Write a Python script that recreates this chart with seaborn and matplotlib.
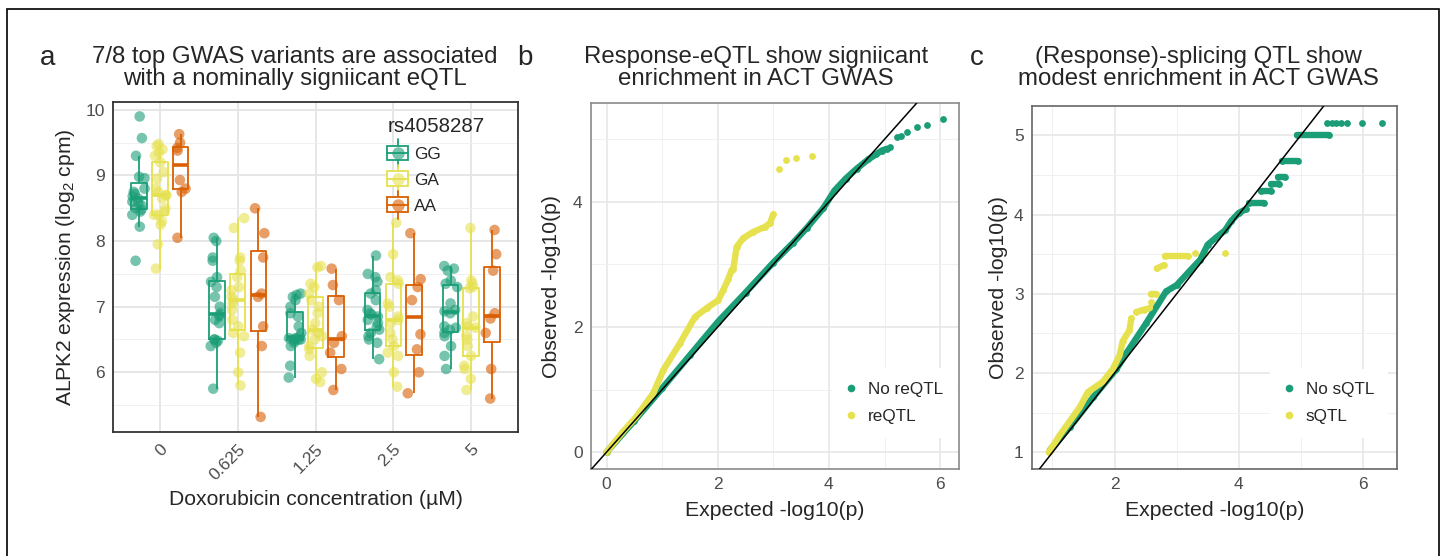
import numpy as np
import pandas as pd

import matplotlib
matplotlib.use("Agg")

import matplotlib.pyplot as plt
import matplotlib.transforms as mtrans
import seaborn as sns
from matplotlib.lines import Line2D
from matplotlib.patches import Rectangle
from matplotlib.legend_handler import HandlerBase
from matplotlib.ticker import MultipleLocator, NullLocator


# ------------------------ DATA ------------------------------------------------

CONCS = ["0", "0.625", "1.25", "2.5", "5"]
GENOTYPES = ["GG", "GA", "AA"]

# ALPK2 expression per concentration, one list per genotype
GG = [
    [9.9, 9.57, 9.3, 8.98, 8.96, 8.8, 8.75, 8.72, 8.68, 8.65, 8.6, 8.58, 8.55, 8.5, 8.48, 8.45, 8.4, 8.22, 7.7],
    [8.05, 8.0, 7.75, 7.7, 7.45, 7.38, 7.3, 7.15, 7.0, 6.9, 6.87, 6.85, 6.8, 6.75, 6.5, 6.48, 6.5, 6.45, 6.4, 5.75],
    [7.2, 7.18, 7.15, 7.1, 7.0, 6.9, 6.85, 6.7, 6.6, 6.55, 6.52, 6.52, 6.5, 6.5, 6.5, 6.48, 6.45, 6.4, 6.1, 5.92],
    [7.78, 7.5, 7.45, 7.38, 7.25, 7.2, 7.1, 6.95, 6.9, 6.88, 6.85, 6.8, 6.75, 6.7, 6.65, 6.6, 6.55, 6.5, 6.45, 6.2],
    [7.62, 7.58, 7.55, 7.4, 7.35, 7.3, 7.05, 6.95, 6.93, 6.9, 6.7, 6.68, 6.65, 6.6, 6.55, 6.4, 6.25, 6.05],
]
GA = [
    [9.48, 9.45, 9.4, 9.35, 9.3, 9.2, 9.05, 8.95, 8.8, 8.75, 8.7, 8.7, 8.65, 8.5, 8.45, 8.4, 8.4, 8.3, 8.25, 7.95, 7.58],
    [8.35, 8.2, 7.75, 7.7, 7.55, 7.45, 7.3, 7.25, 7.15, 7.1, 7.05, 6.95, 6.8, 6.7, 6.6, 6.55, 6.3, 6.0, 5.8],
    [7.62, 7.6, 7.35, 7.3, 7.2, 7.1, 7.0, 6.9, 6.75, 6.65, 6.6, 6.55, 6.5, 6.4, 6.35, 6.25, 6.0, 5.9, 5.85],
    [8.28, 7.8, 7.45, 7.4, 7.35, 7.05, 7.0, 6.85, 6.8, 6.75, 6.6, 6.5, 6.4, 6.3, 6.25, 6.0, 5.78],
    [8.2, 7.4, 7.35, 7.3, 7.28, 6.85, 6.75, 6.7, 6.68, 6.55, 6.5, 6.4, 6.25, 6.1, 6.05, 5.9, 5.73],
]
AA = [
    [9.63, 9.5, 9.42, 9.38, 8.93, 8.8, 8.75, 8.05],
    [8.5, 8.12, 7.75, 7.2, 7.15, 6.7, 6.4, 5.32],
    [7.58, 7.33, 7.1, 6.55, 6.45, 6.3, 6.05, 5.73],
    [8.12, 7.42, 7.3, 7.1, 6.58, 6.35, 6.0, 5.68],
    [8.17, 7.8, 7.55, 6.9, 6.82, 6.6, 6.05, 5.6],
]

# QQ curves: (expected, observed); "run" groups dense stretches
B_NULL_X = [0, 0.5, 1.0, 1.5, 2.0, 2.5, 3.0, 3.36, 3.6, 3.9, 4.1, 4.3, 4.5, 4.71, 4.85, 4.95, 5.05,
            5.1, 5.22, 5.3, 5.4, 5.58, 5.76, 6.05]
B_NULL_Y = [0, 0.5, 1.02, 1.55, 2.08, 2.55, 3.03, 3.35, 3.58, 3.9, 4.18, 4.37, 4.53, 4.68, 4.76, 4.82, 4.85,
            4.87, 5.04, 5.05, 5.11, 5.20, 5.23, 5.32]
B_NULL_RUN = [0] * 17 + [1, 2, 3, 4, 5, 6, 7]

B_RE_X = [0, 0.3, 0.54, 0.84, 1.02, 1.32, 1.59, 1.8, 2.01, 2.1, 2.19, 2.25, 2.28, 2.34, 2.46, 2.64, 2.85, 2.94, 3.0,
          3.10, 3.22, 3.40, 3.70]
B_RE_Y = [0, 0.33, 0.57, 0.94, 1.31, 1.74, 2.16, 2.30, 2.43, 2.59, 2.77, 2.91, 2.93, 3.28, 3.42, 3.52, 3.60, 3.66, 3.80,
          4.53, 4.67, 4.70, 4.73]
B_RE_RUN = [0] * 19 + [1, 2, 3, 4]

C_NULL_X = [0.96, 1.28, 1.66, 2.03, 2.19, 2.51, 2.83, 3.0, 3.2, 3.38, 3.5, 3.65, 3.78, 3.88, 4.0, 4.12,
            4.17, 4.41, 4.36, 4.52, 4.52, 4.65, 4.63, 4.74, 4.69, 4.96, 4.94, 5.45,
            5.43, 5.50, 5.57, 5.64, 5.74, 5.98, 6.31]
C_NULL_Y = [1.03, 1.32, 1.70, 2.05, 2.25, 2.63, 3.03, 3.11, 3.28, 3.43, 3.62, 3.72, 3.80, 3.92, 4.02, 4.07,
            4.15, 4.15, 4.30, 4.30, 4.38, 4.38, 4.48, 4.48, 4.67, 4.67, 5.0, 5.0,
            5.16, 5.16, 5.16, 5.16, 5.16, 5.16, 5.16]
C_NULL_RUN = [0] * 16 + [1, 1, 2, 2, 3, 3, 4, 4, 5, 5, 6, 6] + [7, 8, 9, 10, 11, 12, 13]

C_SQ_X = [0.94, 1.12, 1.44, 1.57, 1.81, 1.97, 2.08, 2.13, 2.24, 2.27,
          2.35, 2.47, 2.57, 2.59, 2.58, 2.66, 2.68, 2.79, 2.81, 3.19, 3.29, 3.45, 3.78]
C_SQ_Y = [1.0, 1.22, 1.57, 1.76, 1.89, 2.05, 2.22, 2.40, 2.54, 2.69,
          2.77, 2.80, 2.82, 2.90, 3.0, 3.0, 3.32, 3.36, 3.48, 3.48, 3.52, 3.52, 3.52]
C_SQ_RUN = [0] * 10 + [1, 1, 1, 2, 3, 3, 4, 4, 5, 5, 6, 7, 8]

PALETTE = {"GG": "#1B9E77", "GA": "#E6E14E", "AA": "#D95F02"}
GREEN = "#1B9E77"
YELLOW = "#E6E14E"

W, H = 1444, 556


# ------------------------ HELPERS --------------------------

def px_box(left, top, right, bottom):
    return [left / W, 1 - bottom / H, (right - left) / W, (bottom - top) / H]


class BoxKey(HandlerBase):
    # boxplot + point key like ggplot's
    def create_artists(self, legend, orig, xd, yd, w, h, fontsize, trans):
        c = orig.get_color()
        x0, y0 = -xd, -yd
        cx, cy = x0 + w / 2, y0 + h / 2
        whisk = Line2D([cx, cx], [y0 - 0.45 * h, y0 + 1.45 * h], color=c, lw=1.3, transform=trans)
        box = Rectangle((x0, y0), w, h, facecolor="white", edgecolor=c, lw=1.3, transform=trans)
        med = Line2D([x0, x0 + w], [cy, cy], color=c, lw=1.3, transform=trans)
        dot = Line2D([cx], [cy], marker="o", ms=9, color=c, alpha=0.6, ls="none",
                     markeredgewidth=0, transform=trans)
        return [whisk, box, med, dot]


def style_axes(ax, spine_col, major_lw=1.1):
    ax.set_axisbelow(True)
    ax.grid(which="major", color="#E6E6E6", lw=major_lw)
    ax.grid(which="minor", color="#EEEEEE", lw=0.6)
    for s in ax.spines.values():
        s.set_color(spine_col)
        s.set_linewidth(1.2)
    ax.tick_params(which="major", length=3.5, width=0.9, color="#333333",
                   labelsize=12.5, labelcolor="#4D4D4D", pad=2.5)
    ax.tick_params(which="minor", length=0)


def qq_series(ax, xs, ys, runs, color):
    sns.lineplot(x=xs, y=ys, units=runs, estimator=None, sort=False, color=color,
                 lw=4.6, solid_capstyle="round", ax=ax, legend=False)
    sns.scatterplot(x=xs, y=ys, color=color, s=24, linewidth=0, ax=ax, legend=False)


def qq_legend(ax, labels, anchor):
    lh = [Line2D([], [], marker="o", ls="none", color=c, ms=5.5, markeredgewidth=0) for c in (GREEN, YELLOW)]
    ax.legend(lh, labels, loc="lower right", bbox_to_anchor=anchor,
              frameon=True, facecolor="white", edgecolor="none", framealpha=1, fancybox=False,
              fontsize=12.3, handlelength=0.6, handletextpad=0.7, labelspacing=0.72,
              borderpad=0.8, borderaxespad=0)


# ------------------------ FIGURE --------------------------

sns.set_theme(style="white")
plt.rcParams["font.family"] = ["Liberation Sans", "DejaVu Sans"]
plt.rcParams["mathtext.fontset"] = "custom"
plt.rcParams["mathtext.rm"] = "Liberation Sans"

np.random.seed(3)
fig = plt.figure(figsize=(W / 100, H / 100), dpi=100)
fig.patch.set_facecolor("white")

# outer frame
fig.patches.append(Rectangle((7 / W, -0.05), (1439 - 7) / W, 1 - 9 / H + 0.05, transform=fig.transFigure,
                             fill=False, edgecolor="black", lw=1.2, clip_on=False))

# ---- panel a ----
rows = []
for g, groups in zip(GENOTYPES, [GG, GA, AA]):
    for conc, vals in zip(CONCS, groups):
        for v in vals:
            rows.append({"conc": conc, "genotype": g, "expr": v})
df = pd.DataFrame(rows)

ax1 = fig.add_axes(px_box(113, 102, 518, 432))
sns.boxplot(data=df, x="conc", y="expr", hue="genotype", order=CONCS, hue_order=GENOTYPES,
            palette=PALETTE, fill=False, width=0.8, gap=0.25, linewidth=1.3, showfliers=False,
            showcaps=False, medianprops={"linewidth": 2.6}, legend=False, ax=ax1)
sns.stripplot(data=df, x="conc", y="expr", hue="genotype", order=CONCS, hue_order=GENOTYPES,
              palette=PALETTE, dodge=True, jitter=0.27, size=7.6, alpha=0.6, linewidth=0,
              legend=False, ax=ax1)
ax1.set_xlim(-0.6, 4.6)
ax1.set_ylim(5.09, 10.12)
ax1.yaxis.set_major_locator(MultipleLocator(1))
ax1.yaxis.set_minor_locator(MultipleLocator(0.5))
ax1.xaxis.set_minor_locator(NullLocator())
style_axes(ax1, "#333333", major_lw=1.4)
ax1.spines[:].set_linewidth(1.3)
ax1.tick_params(axis="x", pad=7)
shift = mtrans.ScaledTranslation(5 / 100, 0, fig.dpi_scale_trans)
for lab in ax1.get_xticklabels():
    lab.set_rotation(45)
    lab.set_ha("right")
    lab.set_va("center")
    lab.set_rotation_mode("anchor")
    lab.set_transform(lab.get_transform() + shift)
ax1.set_xlabel("Doxorubicin concentration (\u00b5M)", fontsize=15.2)
ax1.set_ylabel("ALPK2 expression (log$_\\mathregular{2}$ cpm)", fontsize=15.2)
ax1.xaxis.set_label_coords(0.5, -0.175)
ax1.yaxis.set_label_coords(-0.09, 0.5)

handles = [Line2D([], [], color=PALETTE[g]) for g in GENOTYPES]
leg = ax1.legend(handles, GENOTYPES, title="rs4058287", handler_map={Line2D: BoxKey()},
                 loc="upper left", bbox_to_anchor=(0.66, 0.975), frameon=False,
                 fontsize=12.4, title_fontsize=14.8, handlelength=1.2, handleheight=0.95,
                 handletextpad=0.35, labelspacing=0.55, borderaxespad=0)
leg._legend_box.align = "left"

# ---- panel b ----
ax2 = fig.add_axes(px_box(591, 103, 959, 469))
qq_series(ax2, B_NULL_X, B_NULL_Y, B_NULL_RUN, GREEN)
qq_series(ax2, B_RE_X, B_RE_Y, B_RE_RUN, YELLOW)
ax2.axline((0, 0), slope=1, color="black", lw=1.1, zorder=5)
ax2.set_xlim(-0.28, 6.34)
ax2.set_ylim(-0.27, 5.58)
ax2.xaxis.set_major_locator(MultipleLocator(2))
ax2.xaxis.set_minor_locator(MultipleLocator(1))
ax2.yaxis.set_major_locator(MultipleLocator(2))
ax2.yaxis.set_minor_locator(MultipleLocator(1))
style_axes(ax2, "#8A8A8A")
ax2.set_xlabel("Expected -log10(p)", fontsize=15.3)
ax2.set_ylabel("Observed -log10(p)", fontsize=15.3)
ax2.xaxis.set_label_coords(0.5, -0.088)
ax2.yaxis.set_label_coords(-0.082, 0.5)
qq_legend(ax2, ["No reQTL", "reQTL"], (0.995, 0.085))

# ---- panel c ----
ax3 = fig.add_axes(px_box(1032, 106, 1397, 469))
qq_series(ax3, C_NULL_X, C_NULL_Y, C_NULL_RUN, GREEN)
qq_series(ax3, C_SQ_X, C_SQ_Y, C_SQ_RUN, YELLOW)
ax3.axline((1, 1), slope=1, color="black", lw=1.1, zorder=5)
ax3.set_xlim(0.67, 6.55)
ax3.set_ylim(0.79, 5.37)
ax3.xaxis.set_major_locator(MultipleLocator(2))
ax3.xaxis.set_minor_locator(MultipleLocator(1))
ax3.yaxis.set_major_locator(MultipleLocator(1))
ax3.yaxis.set_minor_locator(MultipleLocator(0.5))
style_axes(ax3, "#666666")
ax3.set_xlabel("Expected -log10(p)", fontsize=15.3)
ax3.set_ylabel("Observed -log10(p)", fontsize=15.3)
ax3.xaxis.set_label_coords(0.5, -0.088)
ax3.yaxis.set_label_coords(-0.066, 0.5)
qq_legend(ax3, ["No sQTL", "sQTL"], (0.975, 0.085))

# ---- titles and panel letters ----
titles = [
    (295, "7/8 top GWAS variants are associated", "with a nominally signiicant eQTL"),
    (756, "Response-eQTL show signiicant", "enrichment in ACT GWAS"),
    (1198, "(Response)-splicing QTL show", "modest enrichment in ACT GWAS"),
]
for xc, l1, l2 in titles:
    fig.text(xc / W, 1 - 63.5 / H, l1, ha="center", va="baseline", fontsize=17.3)
    fig.text(xc / W, 1 - 85 / H, l2, ha="center", va="baseline", fontsize=17.3)
for xl, letter in [(40, "a"), (517, "b"), (970, "c")]:
    fig.text(xl / W, 1 - 65 / H, letter, ha="left", va="baseline", fontsize=20)

fig.savefig("out.png", dpi=100, facecolor="white")
